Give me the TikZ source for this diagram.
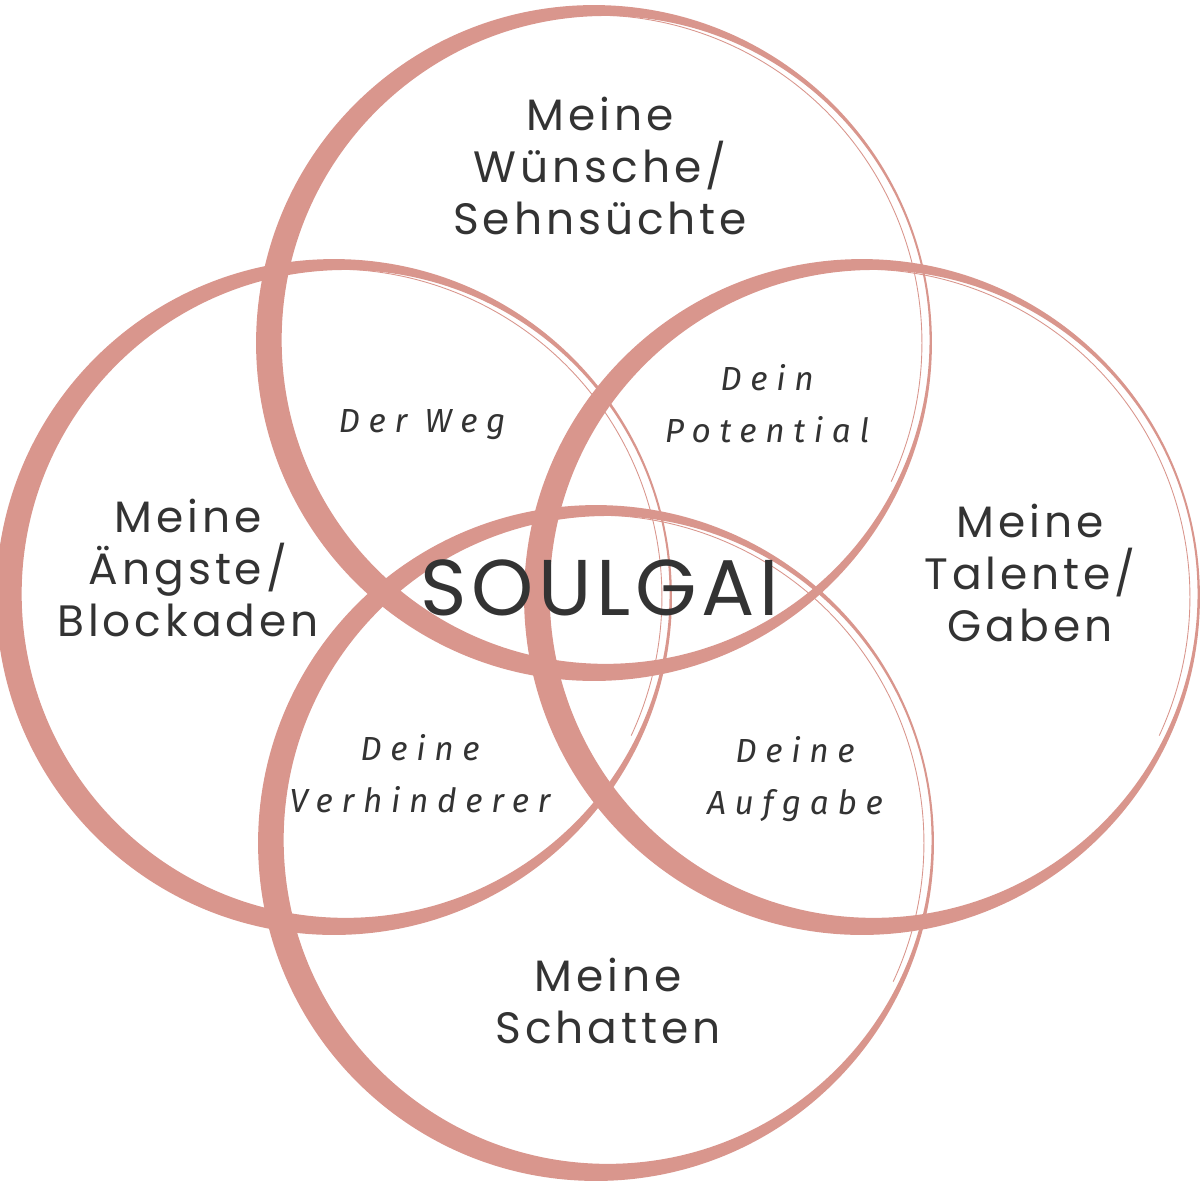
\documentclass[tikz,border=0pt]{standalone}
\usepackage{fontspec}
\usetikzlibrary{calc}
\setmainfont{Poppins}
\newfontfamily\gothicfont[LetterSpace=9]{Poppins}
\newfontfamily\corefont[LetterSpace=6]{Poppins}
\newfontfamily\handfont[LetterSpace=26]{Fira Sans}
\definecolor{rose}{HTML}{D9968D}
\definecolor{ink}{HTML}{333333}

% brush ring: thick lower left, thin upper right
\newcommand\brushcircle[1]{%
  \fill[rose, even odd rule] (#1) circle (6.76cm) ($(#1)+(11.6,-3.1)$) circle (6.48cm);
  \draw[rose, line width=0.5pt] ($(#1)+(115:6.56cm)$) arc[start angle=115, end angle=-25, radius=6.56cm];
}

\begin{document}
\begin{tikzpicture}[x=0.02cm, y=-0.02cm,
    area/.style={text=ink, align=center, font=\gothicfont\fontsize{25}{29.6}\selectfont},
    core/.style={text=ink, font=\corefont\fontsize{45}{50}\selectfont},
    overlap/.style={text=ink, align=center, font=\handfont\itshape\fontsize{19}{29.6}\selectfont}]
    \useasboundingbox (0,0) rectangle (1200,1188);

    \coordinate (top) at (594,343);
    \coordinate (left) at (334,597);
    \coordinate (right) at (862,597);
    \coordinate (bottom) at (596,843);

    \brushcircle{top}
    \brushcircle{left}
    \brushcircle{right}
    \brushcircle{bottom}

    \node[area] (wishes) at (600,166) {Meine\\Wünsche/\\Sehnsüchte};
    \node[area] (fears) at (188,568) {Meine\\Ängste/\\Blockaden};
    \node[area] (talents) at (1030,573) {Meine\\Talente/\\Gaben};
    \node[area] (shadows) at (608,1001) {Meine\\Schatten};
    \node[core] (soulgai) at (600,588) {SOULGAI};

    \node[overlap] (way) at (422,425) {Der Weg};
    \node[overlap] (potential) at (767,404) {Dein\\Potential};
    \node[overlap] (blockers) at (420,774) {Deine\\Verhinderer};
    \node[overlap] (task) at (795,779) {Deine\\Aufgabe};
\end{tikzpicture}
\end{document}
